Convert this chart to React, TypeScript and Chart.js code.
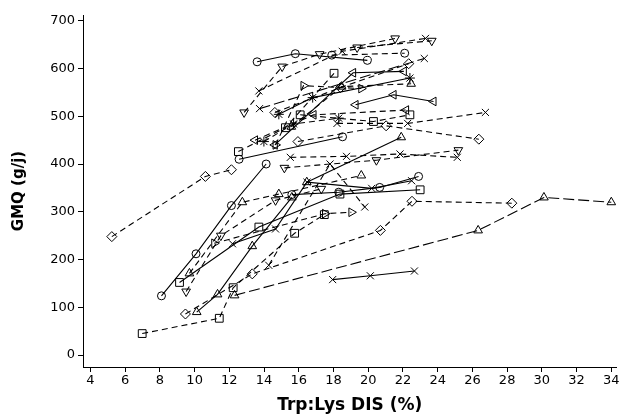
import React, { useEffect, useRef } from "react";
import { Chart, registerables } from "chart.js";

Chart.register(...registerables);

type P = [number, number];

const xTicks = [4, 6, 8, 10, 12, 14, 16, 18, 20, 22, 24, 26, 28, 30, 32, 34];
const yTicks = [0, 100, 200, 300, 400, 500, 600, 700];
const xTitle = "Trp:Lys DIS (%)";
const yTitle = "GMQ (g/j)";

const s01: P[] = [[13.6, 614], [15.8, 631], [19.95, 617]];
const s02: P[] = [[17.9, 628], [22.1, 632]];
const s03: P[] = [[12.85, 508], [15.04, 604], [17.2, 630], [21.55, 663]];
const s04: P[] = [[19.36, 644], [23.66, 658]];
const s05: P[] = [[13.7, 553], [18.5, 636], [23.3, 663]];
const s06: P[] = [[14.62, 508], [18.4, 560], [22.33, 610]];
const s07: P[] = [[13.74, 516], [23.23, 621]];
const s08: P[] = [[12.52, 426], [15.23, 476], [18.03, 590]];
const s09: P[] = [[14.62, 440], [19.13, 591], [22.05, 594]];
const s10: P[] = [[14.66, 440], [16.27, 564], [19.6, 558]];
const s11: P[] = [[15.57, 478], [18.47, 562], [22.47, 568]];
const s12: P[] = [[14.85, 504], [16.8, 539], [22.4, 580]];
const s13: P[] = [[19.27, 524], [21.46, 545], [23.76, 531]];
const s14: P[] = [[13.48, 450], [16.85, 503], [22.18, 513]];
const s15: P[] = [[15.51, 414], [18.75, 416], [21.83, 421], [25.13, 414]];
const s16: P[] = [[15.17, 392], [20.47, 408], [25.19, 429]];
const s17: P[] = [[12.56, 410], [18.52, 457]];
const s18: P[] = [[18.2, 485], [22.27, 485], [26.75, 508]];
const s19: P[] = [[15.95, 447], [21.03, 480], [26.37, 452]];
const s20: P[] = [[16.08, 503], [20.3, 489], [22.4, 503]];
const s21: P[] = [[8.09, 124], [10.08, 212], [12.12, 313], [14.12, 400]];
const s22: P[] = [[5.23, 248], [10.62, 374], [12.12, 388]];
const s23: P[] = [[6.98, 45], [11.42, 77], [12.22, 141], [15.76, 255], [17.47, 294]];
const s24: P[] = [[9.13, 152], [13.7, 268], [18.37, 337], [22.99, 346]];
const s25: P[] = [[9.47, 86], [13.32, 170], [20.7, 261], [22.52, 322], [28.27, 318]];
const s26: P[] = [[10.12, 90], [11.32, 127], [13.32, 228], [15.6, 330]];
const s27: P[] = [[12.3, 125], [26.33, 261], [30.12, 330], [34, 320]];
const s28: P[] = [[17.95, 158], [20.12, 166], [22.66, 176]];
const s29: P[] = [[9.7, 171], [12.75, 320], [14.85, 337], [19.6, 376]];
const s30: P[] = [[9.51, 133], [11.51, 250], [14.66, 324], [17.3, 348]];
const s31: P[] = [[15.6, 336], [18.3, 341], [20.66, 351], [22.9, 374]];
const s32: P[] = [[12.18, 233], [14.66, 264], [16.47, 362], [20.2, 349], [22.5, 365]];
const s33: P[] = [[11.13, 234], [17.51, 296], [19.03, 299]];
const s34: P[] = [[14.27, 188], [17.8, 400], [19.8, 310]];
const s35: P[] = [[13.99, 447], [15.7, 484], [18.3, 496]];
const s36: P[] = [[16.46, 362], [21.9, 456]];

type Style = { data: P[]; marker: string; dash: string };
const series: Style[] = [
  { data: s01, marker: "circle", dash: "solid" },
  { data: s02, marker: "circle", dash: "dash" },
  { data: s03, marker: "triDown", dash: "dash" },
  { data: s04, marker: "triDown", dash: "dash" },
  { data: s05, marker: "x", dash: "dash" },
  { data: s06, marker: "diamond", dash: "dash" },
  { data: s07, marker: "x", dash: "long" },
  { data: s08, marker: "square", dash: "dash" },
  { data: s09, marker: "triLeft", dash: "solid" },
  { data: s10, marker: "triRight", dash: "dash" },
  { data: s11, marker: "triangle", dash: "dash" },
  { data: s12, marker: "star", dash: "solid" },
  { data: s13, marker: "triLeft", dash: "solid" },
  { data: s14, marker: "triLeft", dash: "dash" },
  { data: s15, marker: "x", dash: "dash" },
  { data: s16, marker: "triDown", dash: "dash" },
  { data: s17, marker: "circle", dash: "solid" },
  { data: s18, marker: "x", dash: "dash" },
  { data: s19, marker: "diamond", dash: "dash" },
  { data: s20, marker: "square", dash: "dash" },
  { data: s21, marker: "circle", dash: "solid" },
  { data: s22, marker: "diamond", dash: "dash" },
  { data: s23, marker: "square", dash: "dash" },
  { data: s24, marker: "square", dash: "solid" },
  { data: s25, marker: "diamond", dash: "dash" },
  { data: s26, marker: "triangle", dash: "solid" },
  { data: s27, marker: "triangle", dash: "long" },
  { data: s28, marker: "x", dash: "solid" },
  { data: s29, marker: "triangle", dash: "dash" },
  { data: s30, marker: "triDown", dash: "dash" },
  { data: s31, marker: "circle", dash: "solid" },
  { data: s32, marker: "x", dash: "solid" },
  { data: s33, marker: "triRight", dash: "dash" },
  { data: s34, marker: "x", dash: "dash" },
  { data: s35, marker: "star", dash: "dash" },
  { data: s36, marker: "triangle", dash: "solid" },
];

const markerStyle: Record<string, { style: string; rot: number; r: number }> = {
  circle: { style: "circle", rot: 0, r: 4 },
  triangle: { style: "triangle", rot: 0, r: 5 },
  triDown: { style: "triangle", rot: 180, r: 5 },
  triLeft: { style: "triangle", rot: 270, r: 5 },
  triRight: { style: "triangle", rot: 90, r: 5 },
  square: { style: "rect", rot: 0, r: 5.5 },
  diamond: { style: "rectRot", rot: 0, r: 5 },
  x: { style: "crossRot", rot: 0, r: 5 },
  star: { style: "star", rot: 0, r: 5 },
};

const dashStyle: Record<string, number[]> = {
  solid: [],
  dash: [6, 4],
  long: [11, 4],
};

export default function App() {
  const ref = useRef<HTMLCanvasElement | null>(null);
  useEffect(() => {
    if (!ref.current) return;
    const datasets = series.map((s, i) => {
      const m = markerStyle[s.marker];
      return {
        label: "s" + (i + 1),
        data: s.data.map(([x, y]) => ({ x, y })),
        borderColor: "#000",
        backgroundColor: "rgba(0,0,0,0)",
        borderWidth: 1.1,
        borderDash: dashStyle[s.dash],
        pointStyle: m.style,
        pointRotation: m.rot,
        pointRadius: m.r,
        pointBorderWidth: 1,
        pointBorderColor: "#000",
        pointBackgroundColor: "rgba(0,0,0,0)",
        tension: 0,
        showLine: true,
      };
    });
    const tickFont = { family: "DejaVu Sans", size: 13 };
    const chart = new Chart(ref.current, {
      type: "scatter",
      data: { datasets },
      options: {
        animation: false,
        responsive: false,
        devicePixelRatio: 1,
        layout: { padding: { top: 15, right: 3, left: 0, bottom: 0 } },
        plugins: { legend: { display: false }, tooltip: { enabled: false } },
        scales: {
          x: {
            type: "linear",
            min: 3.57,
            max: 34.3,
            afterBuildTicks: (s: any) => {
              s.ticks = xTicks.map((v) => ({ value: v }));
            },
            afterFit: (s: any) => {
              s.height = 50;
            },
            ticks: { font: tickFont, color: "#000", padding: 1, maxRotation: 0, autoSkip: false },
            grid: { drawOnChartArea: false, drawTicks: true, tickLength: 5, color: "#000" },
            border: { display: true, color: "#000", width: 1 },
            title: {
              display: true,
              text: xTitle,
              color: "#000",
              font: { family: "DejaVu Sans", size: 17, weight: "bold" },
              padding: { top: 0, bottom: 1 },
            },
          },
          y: {
            type: "linear",
            min: -25,
            max: 712,
            afterBuildTicks: (s: any) => {
              s.ticks = yTicks.map((v) => ({ value: v }));
            },
            afterFit: (s: any) => {
              s.width = 83;
            },
            ticks: { font: tickFont, color: "#000", padding: 3 },
            grid: { drawOnChartArea: false, drawTicks: true, tickLength: 5, color: "#000" },
            border: { display: true, color: "#000", width: 1 },
            title: {
              display: true,
              text: yTitle,
              color: "#000",
              font: { family: "DejaVu Sans", size: 15, weight: "bold" },
              padding: { top: 10, bottom: 0 },
            },
          },
        },
      },
    } as any);
    return () => chart.destroy();
  }, []);
  return (
    <div style={{ position: "absolute", left: 0, top: 0, width: 623, height: 417, background: "#fff" }}>
      <canvas ref={ref} width={623} height={417} style={{ width: 623, height: 417, display: "block" }} />
    </div>
  );
}
